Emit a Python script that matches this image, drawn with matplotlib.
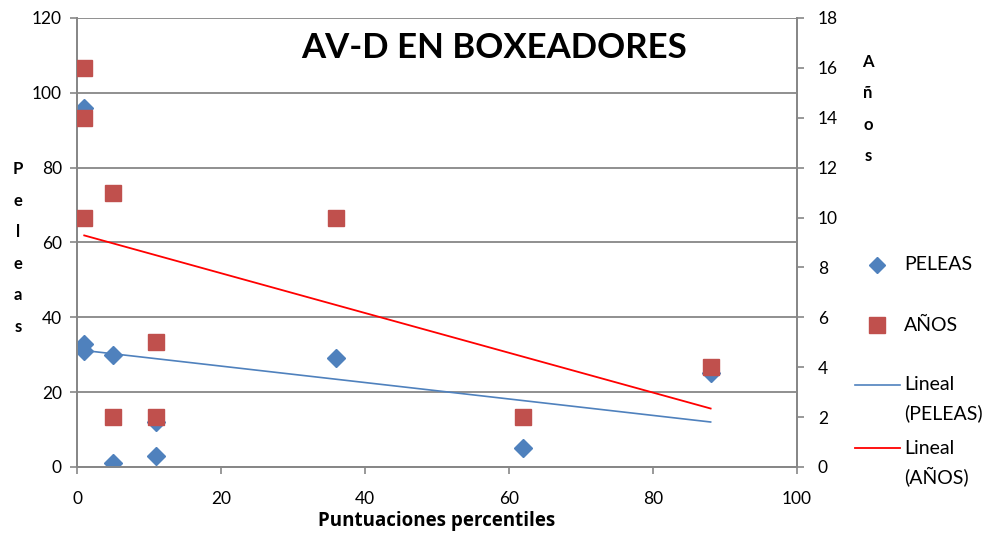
import numpy as np
import matplotlib.pyplot as plt
from matplotlib.lines import Line2D

plt.rcParams['font.family'] = ['Lato', 'DejaVu Sans']

# percentile scores and the two measured series
percentiles = [1, 1, 1, 5, 5, 11, 11, 36, 62, 88]
peleas = [96, 33, 31, 30, 1, 3, 12, 29, 5, 25]
anos = [16, 14, 10, 11, 2, 5, 2, 10, 2, 4]

x_ticks = [0, 20, 40, 60, 80, 100]
left_ticks = [0, 20, 40, 60, 80, 100, 120]
right_ticks = [0, 2, 4, 6, 8, 10, 12, 14, 16, 18]

blue = '#4F81BD'
red = '#C0504D'
grid_gray = '#878787'

W, H = 989, 538
fig = plt.figure(figsize=(W / 100, H / 100), dpi=100)
ax = fig.add_axes([0.0779, 0.132, 0.728, 0.8346])
ax2 = ax.twinx()

x = np.array(percentiles, dtype=float)
xfit = np.array([x.min(), x.max()])

# PELEAS on the left axis
ax.plot(percentiles, peleas, 'D', color=blue, ms=9, mec=blue, zorder=3)
p1 = np.polyfit(x, peleas, 1)
ax.plot(xfit, np.polyval(p1, xfit), color=blue, lw=1.2, zorder=2)

# AÑOS on the right axis
ax2.plot(percentiles, anos, 's', color=red, ms=12, mec=red, zorder=3)
p2 = np.polyfit(x, anos, 1)
ax2.plot(xfit, np.polyval(p2, xfit), color='#FF0000', lw=1.3, zorder=2)

ax.set_xlim(0, 100)
ax.set_ylim(0, 120)
ax2.set_ylim(0, 18)
ax.set_xticks(x_ticks)
ax.set_yticks(left_ticks)
ax2.set_yticks(right_ticks)

ax.yaxis.grid(True, color=grid_gray, lw=1.3)
ax.set_axisbelow(True)
for a in (ax, ax2):
    for s in a.spines.values():
        s.set_color(grid_gray)
        s.set_linewidth(1.3)
    a.tick_params(colors=grid_gray, labelcolor='black', labelsize=12.5, width=1.2, length=5)
ax.spines['top'].set_visible(False)
ax2.spines['top'].set_visible(False)
ax.tick_params(axis='y', pad=6)
ax.tick_params(axis='x', pad=12)
ax2.tick_params(axis='y', pad=10)

ax.set_xlabel('Puntuaciones percentiles', fontsize=13.5, fontweight='bold',
              family=['Open Sans', 'DejaVu Sans'], labelpad=3)
fig.text(18 / W, 1 - 248 / H, 'P\ne\nl\ne\na\ns', fontsize=12, fontweight='bold',
         ha='center', va='center', linespacing=2.2)
fig.text(868 / W, 1 - 109 / H, 'A\nñ\no\ns', fontsize=12, fontweight='bold',
         ha='center', va='center', linespacing=2.2)

ax.text(0.579, 0.933, 'AV-D EN BOXEADORES', transform=ax.transAxes, fontsize=25,
        fontweight='bold', ha='center', va='center', zorder=5)

# legend entries placed by hand on the right side of the figure
def fx(px):
    return px / W

def fy(py):
    return 1 - py / H

fig.add_artist(Line2D([fx(877)], [fy(265)], marker='D', ls='none', color=blue, ms=8.5))
fig.add_artist(Line2D([fx(877)], [fy(325)], marker='s', ls='none', color=red, ms=11.5))
fig.add_artist(Line2D([fx(855), fx(900)], [fy(385), fy(385)], color=blue, lw=1.2))
fig.add_artist(Line2D([fx(855), fx(900)], [fy(448), fy(448)], color='#FF0000', lw=1.3))
legend_lines = [('PELEAS', 265), ('AÑOS', 325),
                ('Lineal', 385), ('(PELEAS)', 413),
                ('Lineal', 448), ('(AÑOS)', 476)]
for label, py in legend_lines:
    fig.text(fx(904), fy(py), label, fontsize=14, ha='left', va='center')

fig.savefig('out.png', dpi=100)
